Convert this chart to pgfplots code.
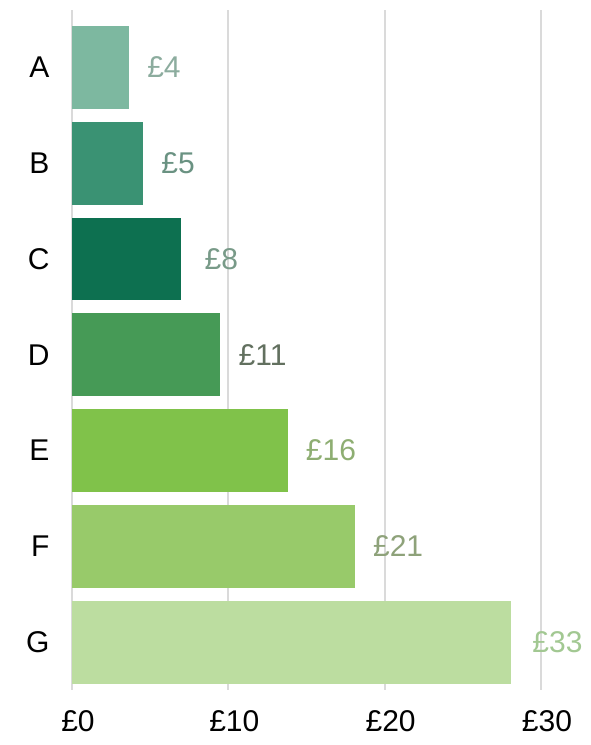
\documentclass[border=0pt]{standalone}
\usepackage{pgfplots}
\pgfplotsset{compat=1.18}
\usepackage{fontspec}
\setmainfont{Liberation Sans}

\definecolor{cA}{HTML}{7DB8A0}
\definecolor{cB}{HTML}{3A9273}
\definecolor{cC}{HTML}{0D7050}
\definecolor{cD}{HTML}{469A56}
\definecolor{cE}{HTML}{80C24A}
\definecolor{cF}{HTML}{98CA6A}
\definecolor{cG}{HTML}{BCDDA0}
\definecolor{lA}{HTML}{8CAC9E}
\definecolor{lB}{HTML}{6A9282}
\definecolor{lC}{HTML}{789A88}
\definecolor{lD}{HTML}{62705F}
\definecolor{lE}{HTML}{8EAE72}
\definecolor{lF}{HTML}{8EA27A}
\definecolor{lG}{HTML}{A2C892}
\definecolor{gridc}{HTML}{DADADA}

\begin{document}
\begin{tikzpicture}
\begin{axis}[
    scale only axis,
    width=518pt, height=680pt,
    xbar, bar width=0.866, bar shift=0pt,
    xmin=0, xmax=33.14,
    ymin=-0.6, ymax=6.5, y dir=reverse,
    ytick={0,1,2,3,4,5,6},
    yticklabels={A,B,C,D,E,F,G},
    xtick={0,10,20,30},
    xticklabels={£0,£10,£20,£30},
    major tick length=0pt,
    axis line style={draw=none},
    xmajorgrids, grid style={gridc, line width=2pt},
    tick label style={font=\fontsize{30}{34}\selectfont, black},
    yticklabel style={xshift=-19pt},
    xticklabel style={yshift=-17pt, xshift=6pt},
    /pgf/number format/assume math mode=true,
    clip=false,
]
\addplot[fill=cA, draw=none] coordinates {(3.65,0)};
\addplot[fill=cB, draw=none] coordinates {(4.55,1)};
\addplot[fill=cC, draw=none] coordinates {(7.0,2)};
\addplot[fill=cD, draw=none] coordinates {(9.5,3)};
\addplot[fill=cE, draw=none] coordinates {(13.8,4)};
\addplot[fill=cF, draw=none] coordinates {(18.1,5)};
\addplot[fill=cG, draw=none] coordinates {(28.1,6)};
\begin{scope}[every node/.style={anchor=west, font=\fontsize{30}{34}\selectfont, inner sep=0pt, xshift=18pt}]
\node[text=lA] at (axis cs:3.65,0) {£4};
\node[text=lB] at (axis cs:4.55,1) {£5};
\node[text=lC, xshift=5pt] at (axis cs:7.0,2) {£8};
\node[text=lD] at (axis cs:9.5,3) {£11};
\node[text=lE] at (axis cs:13.8,4) {£16};
\node[text=lF] at (axis cs:18.1,5) {£21};
\node[text=lG, xshift=3pt] at (axis cs:28.1,6) {£33};
\end{scope}
\coordinate (bl) at (rel axis cs:0,0);
\coordinate (tr) at (rel axis cs:1,1);
\end{axis}
\pgfresetboundingbox
\path ([xshift=-72pt,yshift=-55pt]bl) rectangle ([yshift=10pt]tr);
\end{tikzpicture}
\end{document}
